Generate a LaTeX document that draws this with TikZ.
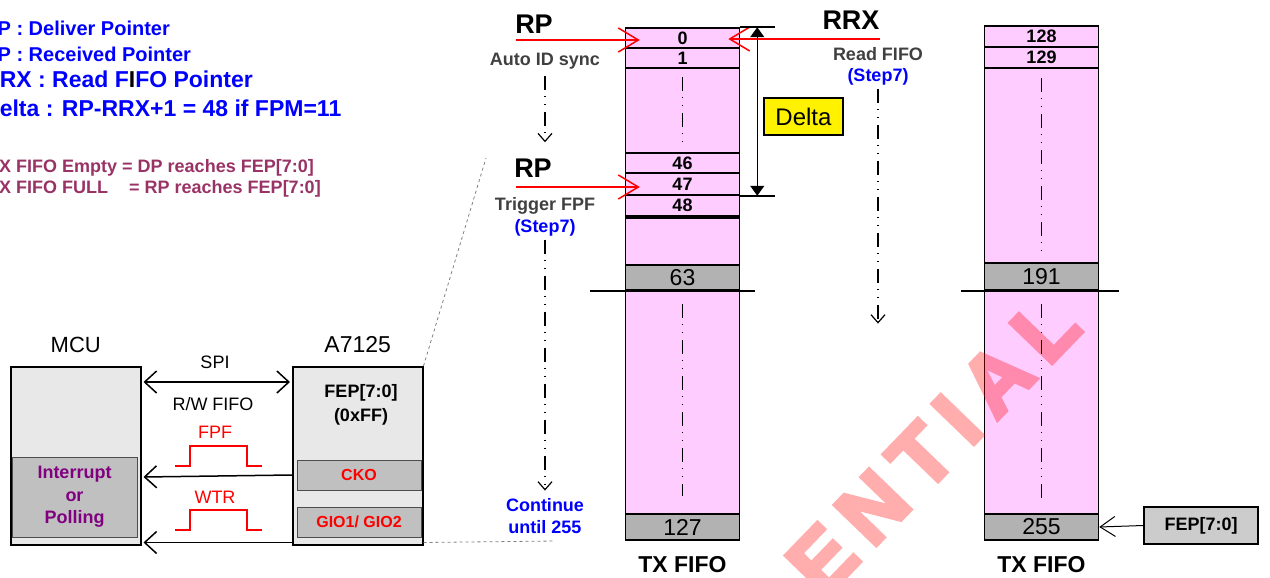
\documentclass[tikz,border=0pt]{standalone}
\usepackage{fontspec}
\setmainfont{Liberation Sans}
\usetikzlibrary{arrows.meta,calc,positioning}
\definecolor{fifopink}{HTML}{FFCCFF}
\definecolor{cellgray}{HTML}{B2B2B2}
\definecolor{boxgray}{HTML}{E8E8E8}
\definecolor{innergray}{HTML}{C0C0C0}
\definecolor{fepgray}{HTML}{CCCCCC}
\definecolor{notepurple}{HTML}{993366}
\definecolor{intpurple}{HTML}{800080}
\definecolor{labelgray}{HTML}{404040}
\newcommand{\fsz}[2]{\fontsize{#1}{#2}\selectfont}

\begin{document}
\begin{tikzpicture}[x=1pt,y=-1pt,every node/.style={inner sep=0pt},
 cell/.style={draw,line width=1.5pt,fill=fifopink,minimum width=114pt,font=\fsz{18}{18}\bfseries},
 gcell/.style={cell,fill=cellgray,font=\fsz{23}{23}},
 chip/.style={draw,line width=1.5pt,fill=boxgray,minimum width=130pt,minimum height=178pt,anchor=north west},
 pinbox/.style={draw=black!70,line width=1pt,fill=innergray,minimum width=124pt,minimum height=30pt,text=red,font=\fsz{16}{16}\bfseries},
 note/.style={text=blue,font=\fsz{20}{20}\bfseries,anchor=base west},
 rulenote/.style={text=notepurple,font=\fsz{18}{18}\bfseries,anchor=base west},
 big/.style={font=\fsz{27}{27}\bfseries},
 hint/.style={text=labelgray,font=\fsz{18}{18}\bfseries},
 blu/.style={text=blue,font=\fsz{18}{22}\bfseries},
 plain/.style={font=\fsz{#1}{#1}},plain/.default=18,
 ptr/.style={red,line width=1.5pt,-{Straight Barb[length=20pt,width=24pt]}},
 sig/.style={line width=1.5pt,-{Straight Barb[length=12pt,width=22pt]}},
 dd/.style={line width=1.2pt,dash pattern=on 14pt off 6pt on 1pt off 7pt on 1pt off 7pt},
 ddarrow/.style={dd,-{Straight Barb[length=8pt,width=14pt]}},
 wave/.style={red,line width=1.5pt},
 bar/.style={line width=1.5pt},
 zoomln/.style={gray,line width=.8pt,dashed}]
\useasboundingbox(0,0)rectangle(1270,578);\clip(0,0)rectangle(1270,578);
\node[note](dp)at(-17,36){DP : Deliver Pointer};
\node[note](rp)at(-17,62){RP : Received Pointer};
\node[note,font=\fsz{23}{23}\bfseries](rrxn)at(-17,88){RRX : Read F{\color{black}I}FO Pointer};
\node[note,font=\fsz{23}{23}\bfseries](deltan)at(-17,117){Delta : RP-RRX+1 = 48 if FPM=11};
\node[rulenote](empty)at(-12,172){TX FIFO Empty = DP reaches FEP[7:0]};
\node[rulenote](full)at(-12,193){TX FIFO FULL\hspace{21pt}= RP reaches FEP[7:0]};
% TX FIFO 0..127
\node[cell,minimum height=20pt](c0)at(682.5,38){0};\node[cell,minimum height=20pt](c1)at(682.5,58){1};
\node[cell,minimum height=85pt](b1)at(682.5,110.5){};
\node[cell,minimum height=20pt](c46)at(682.5,163){46};\node[cell,minimum height=22pt](c47)at(682.5,184){47};\node[cell,minimum height=21pt](c48)at(682.5,205.5){48};
\node[cell,minimum height=47pt](b2)at(682.5,241.5){};\node[gcell,minimum height=25pt](c63)at(682.5,277.5){63};
\node[cell,minimum height=224pt](b3)at(682.5,402){};\node[gcell,minimum height=26pt](c127)at(682.5,527){127};
% TX FIFO 128..255
\node[cell,minimum height=21pt](d128)at(1041.5,36.5){128};\node[cell,minimum height=21pt](d129)at(1041.5,57.5){129};
\node[cell,minimum height=195pt](e1)at(1041.5,165.5){};\node[gcell,minimum height=27pt](d191)at(1041.5,276.5){191};
\node[cell,minimum height=224pt](e2)at(1041.5,402){};\node[gcell,minimum height=26pt](d255)at(1041.5,527){255};
\begin{scope}[transparency group,opacity=.32]
\node[text=red,font=\fsz{84}{84}\bfseries\addfontfeature{LetterSpace=17,FakeBold=5},rotate=46,anchor=base east](wmk)at(1084,330){CONFIDENTIAL};
\end{scope}
\draw[bar]($(c63.south west)+(-35,0)$)--($(c63.south east)+(15,0)$);\draw[bar]($(d191.south west)+(-23,0)$)--($(d191.south east)+(20,0)$);
\draw[dd]($(b1.north)+(0,10)$)--($(b1.south)+(0,-7)$);\draw[dd]($(b3.north)+(0,15)$)--($(b3.south)+(0,-19)$);
\draw[dd]($(e1.north)+(0,11)$)--($(e1.south)+(0,-11)$);\draw[dd]($(e2.north)+(0,15)$)--($(e2.south)+(0,-17)$);
\node[below=15pt of c127,font=\fsz{23}{23}\bfseries](tx1){TX FIFO};\node[below=15pt of d255,font=\fsz{23}{23}\bfseries](tx2){TX FIFO};
% pointers
\node[big](rp1)at(534,24){RP};\coordinate(rp1s)at(516,40);\draw[ptr](rp1s)--($(c0.west)+(15,2)$);
\node[hint](auto)at(545,61){Auto ID sync};\draw[ddarrow]($(auto.south)+(0,7)$)--++(0,66);
\node[big](rp2)at(533,168){RP};\coordinate(rp2s)at(516,187);\draw[ptr](rp2s)--($(c47.west)+(15,3)$);
\node[hint](trig)at(545,206){Trigger FPF};\node[blu](st1)at(545,228){(Step7)};\draw[ddarrow]($(st1.south)+(0,3)$)--++(0,251);
\node[blu,align=center](cont)at(545,516){Continue\\until 255};
\node[big](rrx)at(851,20){RRX};\coordinate(rrxs)at(880,39);\draw[ptr](rrxs)--($(c0.east)+(-12,1)$);
\node[hint](rd)at(878,54){Read FIFO};\node[blu](st2)at(878,77){(Step7)};\draw[ddarrow]($(st2.south)+(0,3)$)--++(0,235);
\draw[bar](c0.north east)--++(35,0);\draw[bar](c47.south east)--++(35,0);
\draw[line width=1.5pt,{Triangle[length=10pt,width=14pt]}-{Triangle[length=10pt,width=14pt]}]($(c0.north east)+(17,0)$)--($(c47.south east)+(17,0)$);
\node[draw,line width=1.5pt,fill=yellow,minimum width=79pt,minimum height=37pt,plain=24](dbox)at(803.5,116.5){Delta};
% MCU and A7125
\node[chip](mcu)at(10,366){};\node[above=13pt of mcu,plain=22](mcut){MCU};
\node[draw=black!70,line width=1pt,fill=innergray,minimum width=125pt,minimum height=80pt,text=intpurple,font=\fsz{18}{22.5}\bfseries,align=center](intr)at(74.5,497){Interrupt\\or\\Polling};
\node[chip](a7125)at(292,366){};\node[above=13pt of a7125,plain=23](a7125t){A7125};
\node[font=\fsz{18}{24}\bfseries,align=center](fep)at(361,405){FEP[7:0]\\(0xFF)};
\node[pinbox](cko)at(359,475){CKO};\node[pinbox](gio)at(359,522){GIO1/ GIO2};
\draw[line width=1.5pt,{Straight Barb[length=12pt,width=22pt]}-{Straight Barb[length=12pt,width=22pt]}]($(mcu.north east)+(2,16)$)--($(a7125.north west)+(-2,16)$);
\node[plain](spi)at(215,362){SPI};\node[plain](rw)at(213,404){R/W FIFO};
\node[plain,text=red](fpf)at(215,432){FPF};\draw[wave](175,466)-|(190,446)-|(247,466)--(262,466);
\draw[sig](a7125.west|-cko)--($(mcu.east|-cko)+(2,2)$);
\node[plain,text=red](wtr)at(215,497){WTR};\draw[wave](175,530)-|(190,510)-|(247,530)--(262,530);
\draw[sig]($(a7125.south west)+(0,-3)$)--($(mcu.south east)+(2,-3)$);
\coordinate(zt)at(486,158);\draw[zoomln](a7125.north east)--(zt);
\coordinate(zb)at(555,541);\draw[zoomln]($(a7125.south east)+(0,-3)$)--(zb);
\node[draw,line width=1.2pt,fill=fepgray,minimum width=114pt,minimum height=37pt,font=\fsz{18}{18}\bfseries](fepr)at(1201,525.5){FEP[7:0]};
\draw[line width=1pt,-{Straight Barb[length=15pt,width=20pt]}](fepr.west)--(d255.east);
\end{tikzpicture}
\end{document}
